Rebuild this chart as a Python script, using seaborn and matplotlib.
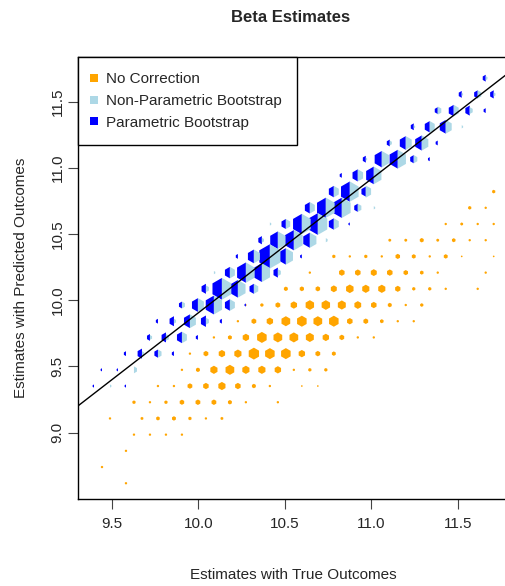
import numpy as np
import pandas as pd
import matplotlib
matplotlib.use("Agg")
import matplotlib.pyplot as plt
from matplotlib.lines import Line2D
import seaborn as sns

# hexbin grid: staggered rows, columns in half-steps
gridX0 = 9.490
gridHalfDx = 0.04616
gridY0 = 8.618
gridDy = 0.1224

# No Correction bins, one list per grid row starting at row 0
noCorrCols = [
    [2], [-1], [2], [3, 5, 7, 9],
    [0, 4, 6, 8, 10, 12, 14],
    [3, 5, 7, 9, 11, 13, 15, 17, 21],
    [6, 8, 10, 12, 14, 16, 18, 20, 24, 26],
    [9, 11, 13, 15, 17, 19, 21, 23, 25, 27],
    [10, 12, 14, 16, 18, 20, 22, 24, 26, 28],
    [13, 15, 17, 19, 21, 23, 25, 27, 29, 31, 33],
    [16, 18, 20, 22, 24, 26, 28, 30, 32, 34, 36, 38],
    [17, 19, 21, 23, 25, 27, 29, 31, 33, 35, 37, 39],
    [22, 24, 26, 28, 30, 32, 34, 36, 38, 40, 42, 46],
    [25, 29, 31, 33, 35, 37, 39, 41, 47],
    [28, 30, 32, 34, 36, 38, 40, 42, 44, 48],
    [35, 37, 39, 41, 43, 45, 47],
    [42, 44, 46, 48],
    [45, 47],
    [48],
]
noCorrCounts = [
    [2], [2], [2], [2, 2, 2, 2],
    [2, 3, 5, 6, 4, 2, 3],
    [4, 2, 4, 8, 9, 9, 6, 2, 2],
    [2, 2, 9, 12, 20, 12, 6, 2, 1, 1],
    [2, 6, 20, 30, 20, 20, 16, 2, 4, 4],
    [2, 9, 16, 20, 42, 36, 36, 16, 9, 6],
    [2, 6, 16, 36, 30, 30, 25, 16, 9, 2, 2],
    [2, 9, 16, 30, 36, 30, 36, 12, 9, 5, 2, 2],
    [1, 4, 9, 16, 28, 28, 25, 18, 12, 6, 2, 4],
    [6, 7, 8, 14, 22, 20, 20, 11, 4, 4, 2, 2],
    [2, 12, 12, 14, 12, 8, 5, 2, 2],
    [4, 2, 4, 2, 8, 6, 2, 6, 1, 1],
    [3, 3, 6, 3, 5, 2, 2],
    [2, 3, 2, 2],
    [4, 2],
    [4],
]

# bootstrap bins, one list per grid row starting at row 6
bootRow0 = 6
bootCols = [
    [-2, 0, 2], [-1, 1, 3], [2, 4, 6, 8], [5, 7, 9, 11],
    [6, 8, 10, 12, 14], [9, 11, 13, 15, 17], [12, 14, 16, 18],
    [13, 15, 17, 19, 21], [16, 18, 20, 22, 24], [19, 21, 23, 25, 27],
    [20, 22, 24, 26, 28, 30], [25, 27, 29, 31, 33], [28, 30, 32],
    [29, 31, 33], [32, 34, 36, 38, 40], [35, 37, 39, 41],
    [38, 40, 42, 44], [41, 43, 45, 47], [44, 46, 48], [47],
]
paramCounts = [
    [3, 0, 3], [3, 3, 0], [7, 30, 20, 7], [14, 30, 39, 7],
    [7, 30, 56, 39, 7], [14, 56, 105, 39, 3], [30, 140, 92, 30],
    [0, 39, 122, 105, 30], [7, 56, 175, 80, 5], [20, 92, 122, 68, 0],
    [0, 30, 122, 140, 39, 3], [39, 122, 122, 20, 0], [39, 122, 30],
    [7, 44, 92], [14, 80, 105, 20, 5], [14, 56, 68, 7],
    [14, 39, 56, 0], [14, 39, 30, 7], [14, 20, 20], [14],
]
nonParamCounts = [
    [0, 3, 0], [0, 0, 14], [0, 7, 20, 0], [7, 14, 39, 0],
    [0, 7, 56, 14, 0], [14, 56, 105, 39, 0], [14, 140, 92, 30],
    [3, 39, 122, 105, 14], [0, 56, 175, 80, 0], [7, 92, 122, 68, 5],
    [3, 30, 122, 140, 39, 0], [39, 122, 122, 20, 3], [39, 122, 44],
    [0, 44, 92], [3, 80, 105, 20, 0], [7, 56, 68, 0],
    [3, 39, 56, 3], [20, 39, 14, 0], [3, 20, 5], [5],
]

# reference line (intercept, slope)
lineIntercept = -0.2147
lineSlope = 1.012

xTicks = [9.5, 10.0, 10.5, 11.0, 11.5]
yTicks = [9.0, 9.5, 10.0, 10.5, 11.0, 11.5]
legendLabels = ['No Correction', 'Non-Parametric Bootstrap', 'Parametric Bootstrap']
seriesColors = ['orange', 'lightblue', 'blue']


def cells_frame(rowStart, cols, counts):
    records = []
    for i, (rowCols, rowCounts) in enumerate(zip(cols, counts)):
        r = rowStart + i
        for k, n in zip(rowCols, rowCounts):
            if n > 0:
                records.append((gridX0 + gridHalfDx * k, gridY0 + gridDy * r, n))
    return pd.DataFrame(records, columns=['x', 'y', 'count'])


noCorrDf = cells_frame(0, noCorrCols, noCorrCounts)
paramDf = cells_frame(bootRow0, bootCols, paramCounts)
nonParamDf = cells_frame(bootRow0, bootCols, nonParamCounts)

sns.set_style("white")
plt.rcParams['font.family'] = ['Liberation Sans', 'DejaVu Sans']

fig = plt.figure(figsize=(5.05, 5.86), dpi=100)
ax = fig.add_axes([78.3 / 505, 1 - 499 / 586, 430 / 505, 442 / 586])

# marker area proportional to the bin count, one scale for all series
countNorm = (0, 240)
sizeRange = (0, 421)

# pointy-top hexagon split into a left and a right half
leftHalf = [(0, 1), (-0.866, 0.5), (-0.866, -0.5), (0, -1), (0, 1)]
rightHalf = [(0, 1), (0.866, 0.5), (0.866, -0.5), (0, -1), (0, 1)]

sns.scatterplot(data=noCorrDf, x='x', y='y', size='count', sizes=sizeRange,
                size_norm=countNorm, marker='h', color='orange',
                edgecolor='none', linewidth=0, legend=False, ax=ax, zorder=2)
sns.scatterplot(data=paramDf, x='x', y='y', size='count', sizes=sizeRange,
                size_norm=countNorm, marker=leftHalf, color='blue',
                edgecolor='none', linewidth=0, legend=False, ax=ax, zorder=3)
sns.scatterplot(data=nonParamDf, x='x', y='y', size='count', sizes=sizeRange,
                size_norm=countNorm, marker=rightHalf, color='lightblue',
                edgecolor='none', linewidth=0, legend=False, ax=ax, zorder=3)

ax.axline((0, lineIntercept), slope=lineSlope, color='black', linewidth=1, zorder=4)

ax.set_xlim(9.307, 11.790)
ax.set_ylim(8.499, 11.838)
ax.set_xticks(xTicks)
ax.set_yticks(yTicks)
ax.set_xticklabels([f'{t:.1f}' for t in xTicks])
ax.set_yticklabels([f'{t:.1f}' for t in yTicks], rotation=90, va='center')
ax.tick_params(direction='out', length=7, width=0.8, labelsize=11,
               color='#444444', left=True, bottom=True)
ax.tick_params(axis='x', pad=6)
ax.tick_params(axis='y', pad=3)
for spine in ax.spines.values():
    spine.set_color('black')
    spine.set_linewidth(1)

ax.set_xlabel('Estimates with True Outcomes', fontsize=11)
ax.set_ylabel('Estimates with Predicted Outcomes', fontsize=11)
ax.xaxis.set_label_coords(0.5, -0.157)
ax.yaxis.set_label_coords(-0.117, 0.5)

fig.text(291 / 505, 1 - 17 / 586, 'Beta Estimates', ha='center', va='center',
         fontsize=12, fontweight='bold')

handles = [Line2D([], [], linestyle='none', marker='s', markersize=5.5,
                  markeredgewidth=0, color=c) for c in seriesColors]
leg = ax.legend(handles, legendLabels, loc='upper left', borderaxespad=0,
                fancybox=False, edgecolor='black', framealpha=1, fontsize=11,
                handlelength=0, handletextpad=0.84, borderpad=1.0,
                labelspacing=0.5)
leg.get_frame().set_linewidth(1)
leg.set_zorder(5)

fig.savefig('out.png', dpi=100)
